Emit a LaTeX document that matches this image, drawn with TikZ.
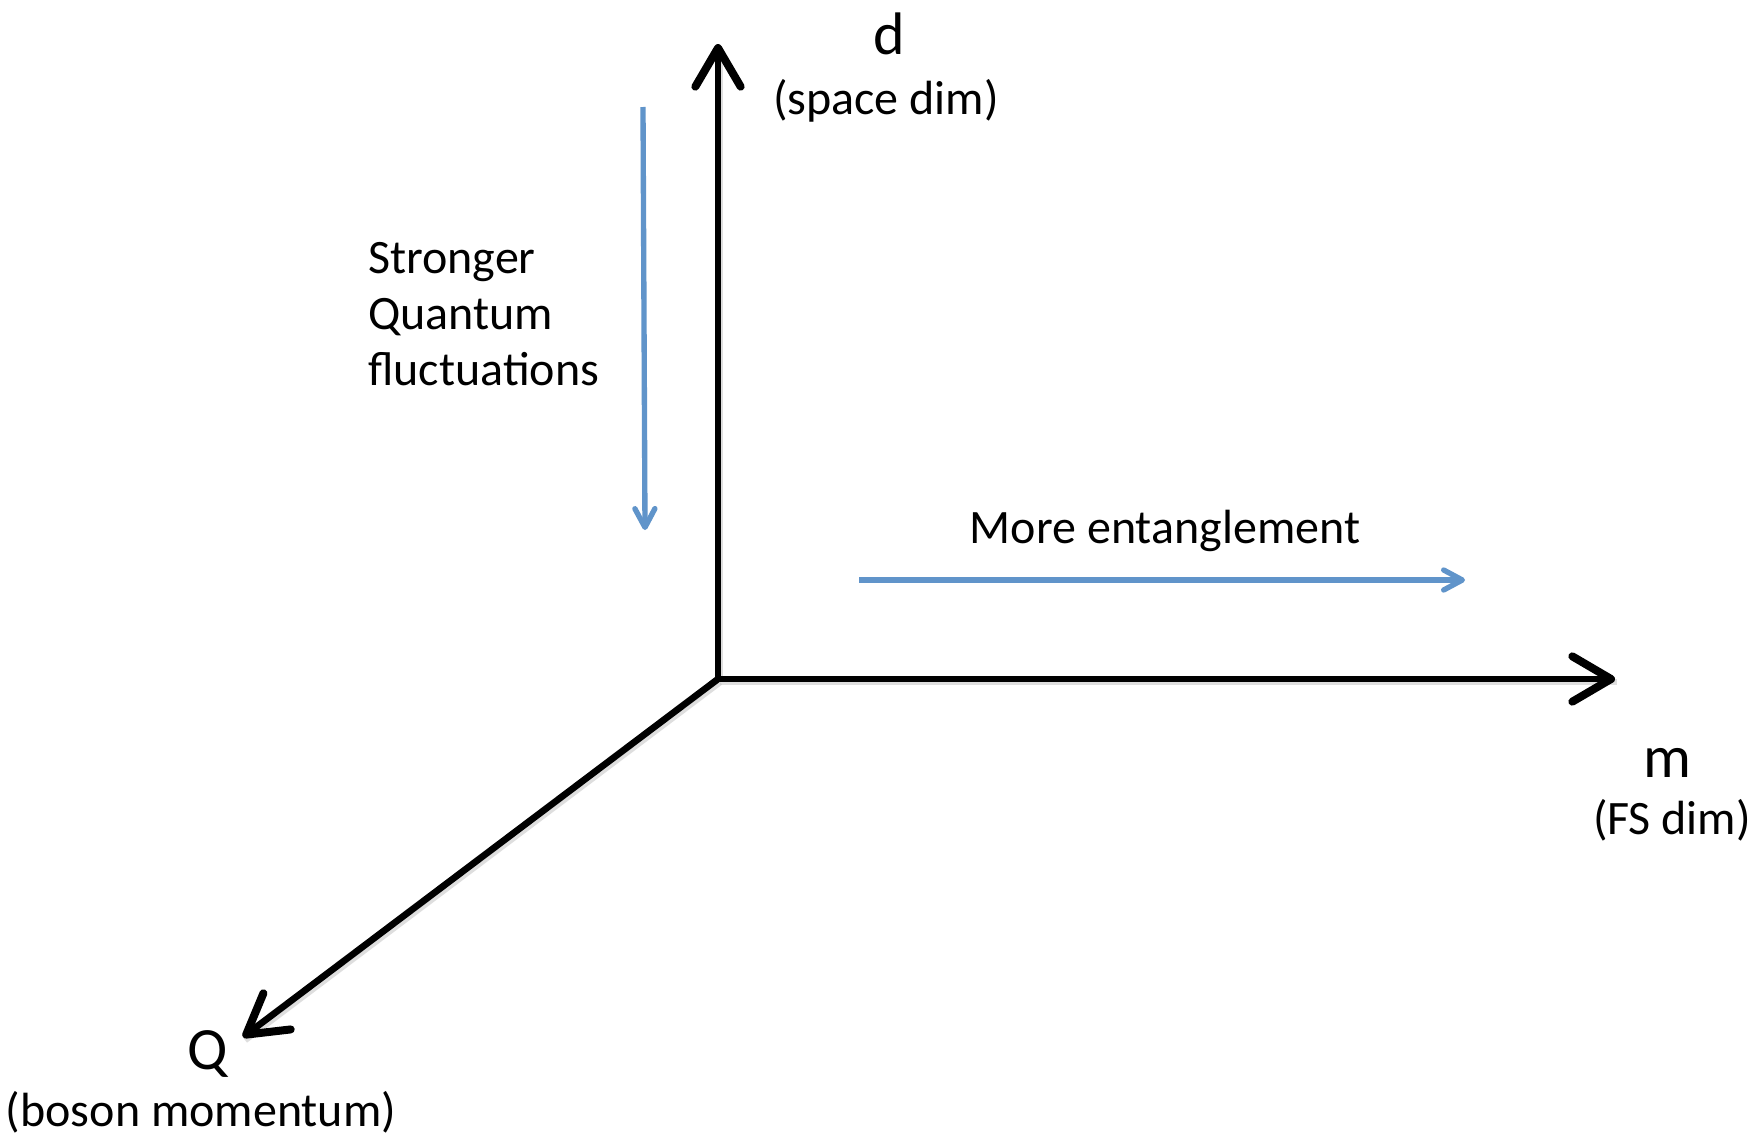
\documentclass[tikz,border=0pt]{standalone}
\usepackage{fontspec}
\setmainfont{Carlito}
\usetikzlibrary{arrows.meta}
\definecolor{axisblue}{RGB}{96,148,202}
\begin{document}
\begin{tikzpicture}[x=0.75pt,y=-0.75pt,
  axis/.style={line width=5pt,black,-{Straight Barb[length=29pt,width=34pt,round,line width=6pt]}},
  hint/.style={line width=4pt,axisblue,-{Straight Barb[length=14pt,width=15pt,round]}},
  shade/.style={line width=5pt,black!25,opacity=0.5},
  biglab/.style={font=\fontsize{45}{48}\selectfont,anchor=base,inner sep=0pt},
  sublab/.style={font=\fontsize{36}{40}\selectfont,anchor=base,inner sep=0pt},
  note/.style={font=\fontsize{36}{42}\selectfont,inner sep=0pt}]
\useasboundingbox[fill=white] (0,0) rectangle (1756,1135);
% coordinates
\coordinate (O) at (718,679);
\coordinate (dtip) at (718,44);
\coordinate (mtip) at (1615,679);
\coordinate (qtip) at (243,1037);
\coordinate (vs) at (643,107);
\coordinate (ve) at (645,530);
\coordinate (hs) at (859,580);
\coordinate (he) at (1465,580);
% shadows
\draw[shade] ([shift={(2,3)}]O) -- ([shift={(2,3)}]dtip);
\draw[shade] ([shift={(2,3)}]O) -- ([shift={(2,3)}]mtip);
\draw[shade] ([shift={(2,3)}]O) -- ([shift={(2,3)}]qtip);
% axes
\draw[axis] (O) -- (dtip);
\draw[axis] (O) -- (mtip);
\draw[axis] (O) -- (qtip);
% blue hints
\draw[hint] (vs) -- (ve);
\draw[hint] (hs) -- (he);
% labels
\node[biglab] (dl) at (889,54) {d};
\node[sublab] (dsub) at (886,114) {(space dim)};
\node[biglab] (ml) at (1667,777) {m};
\node[sublab] (msub) at (1672,834) {(FS dim)};
\node[biglab] (ql) at (208,1069) {Q};
\node[sublab] (qsub) at (201,1126) {(boson momentum)};
\node[note,anchor=base west,align=left] (sq) at (368,385) {Stronger\\Quantum\\fluctuations};
\node[note,anchor=base] (me) at (1165,543) {More entanglement};
\end{tikzpicture}
\end{document}
